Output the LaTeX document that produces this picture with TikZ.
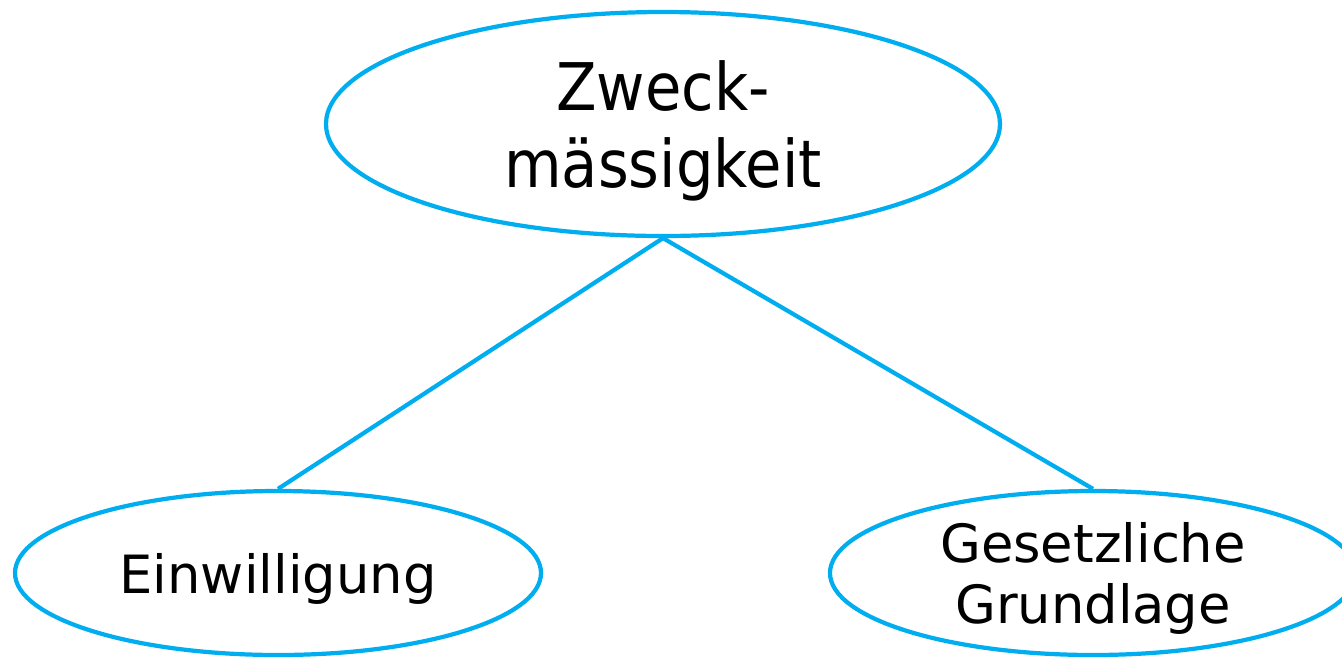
\documentclass[tikz,border=0pt]{standalone}
\usepackage{fontspec}
\setmainfont{DejaVu Sans}
\newfontfamily\condfont{DejaVu Sans Condensed}
\usepackage{xcolor}
\usetikzlibrary{shapes.geometric}
\definecolor{lineblue}{HTML}{00AEEF}

\begin{document}
\begin{tikzpicture}[
    oval/.style={ellipse, draw=lineblue, line width=1.2pt, align=center, inner sep=0pt, text depth=0pt},
    bigoval/.style={oval, minimum width=6.74cm, minimum height=2.24cm, font=\condfont\fontsize{18.7}{21.9}\selectfont},
    smalloval/.style={oval, minimum width=5.26cm, minimum height=1.64cm, font=\fontsize{15}{17.4}\selectfont},
    link/.style={draw=lineblue, line width=1.2pt},
]
    \useasboundingbox (0,0) rectangle (13.42,6.57);
    \node[bigoval] (zweck) at (6.63,5.33) {Zweck-\\mässigkeit};
    \node[smalloval] (einw) at (2.78,0.84) {Einwilligung};
    \node[smalloval] (gesetz) at (10.93,0.84) {Gesetzliche\\Grundlage};

    \draw[link] (zweck.south) -- (einw.north);
    \draw[link] (zweck.south) -- (gesetz.north);
\end{tikzpicture}
\end{document}
